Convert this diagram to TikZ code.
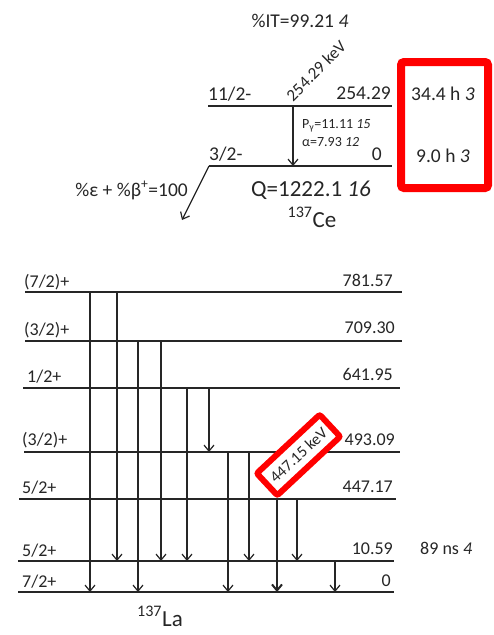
\documentclass[tikz,border=0pt]{standalone}
\usepackage{fontspec}
\setmainfont{Carlito}
\usetikzlibrary{arrows.meta}
\begin{document}
\begin{tikzpicture}[x=1pt,y=-1pt,
  lev/.style={line width=1.8pt, draw=black!85},
  gnd/.style={line width=2.8pt, draw=black!85},
  gam/.style={line width=1.2pt, draw=black!85, -{Straight Barb[length=6pt,width=10pt]}},
  gamthick/.style={gam, line width=2pt},
  txt/.style={inner sep=0pt, text=black!85, font=\fontsize{18}{20}\selectfont},
  utxt/.style={txt, font=\fontsize{19.5}{22}\selectfont},
  stxt/.style={txt, font=\fontsize{14}{16}\selectfont},
  big/.style={txt, font=\fontsize{23}{26}\selectfont},
  redbox/.style={draw=red, fill=white, rounded corners=3pt}
]
\useasboundingbox (0,0) rectangle (494,635);

% ---------------- upper scheme: 137Ce ----------------
\node[utxt, anchor=base] (it) at (300,27) {\%IT=99.21 \textit{4}};
\coordinate (u1l) at (208,106); \coordinate (u1r) at (392,106);
\coordinate (u0l) at (209,166); \coordinate (u0r) at (392,166);
\draw[lev] (u1l) -- (u1r);
\draw[lev] (u0l) -- (u0r);
\node[utxt, anchor=base west] (u1j) at (208,100) {11/2-};
\node[utxt, anchor=base east] (u1e) at (391,99) {254.29};
\node[utxt, anchor=base west] (u0j) at (209,160) {3/2-};
\node[utxt, anchor=base east] (u0e) at (382,160) {0};
\coordinate (ug1) at (293,106); \coordinate (ug2) at (293,166);
\draw[gam] (ug1) -- (ug2);
\node[txt, font=\fontsize{17}{19}\selectfont, rotate=45] (ugl) at (316,71) {254.29 keV};
\node[stxt, anchor=base west] (pg) at (302,128) {P\textsubscript{γ}=11.11 \textit{15}};
\node[stxt, anchor=base west] (al) at (302,146) {α=7.93 \textit{12}};
\node[big, anchor=base] (q) at (311,196) {Q=1222.1 \textit{16}};
\node[big, anchor=base] (ce) at (312,227) {\textsuperscript{137}Ce};
\coordinate (ec) at (182,220);
\draw[gam] (u0l) -- (ec);
\node[utxt, anchor=base east] (ecl) at (188,196) {\%ε + \%β\textsuperscript{+}=100};
\node[redbox, line width=8pt, minimum width=87pt, minimum height=126pt] (ubox) at (444.5,125) {};
\node[utxt, anchor=base] (t1) at (443,100) {34.4 h \textit{3}};
\node[utxt, anchor=base] (t0) at (443,162) {9.0 h \textit{3}};

% ---------------- lower scheme: 137La ----------------
% levels
\draw[lev] (25,292) coordinate (L781l) -- (402,292) coordinate (L781r);
\draw[lev] (25,341) coordinate (L709l) -- (402,341) coordinate (L709r);
\draw[lev] (23,388) coordinate (L641l) -- (400,388) coordinate (L641r);
\draw[lev] (24,452) coordinate (L493l) -- (400,452) coordinate (L493r);
\draw[lev] (19,499) coordinate (L447l) -- (396,499) coordinate (L447r);
\draw[lev] (18,561) coordinate (L10l) -- (394,561) coordinate (L10r);
\draw[gnd] (18,592) coordinate (L0l) -- (394,592) coordinate (L0r);

% spin labels
\node[txt, anchor=base west] (s781) at (24,287) {(7/2)+};
\node[txt, anchor=base west] (s709) at (24,335) {(3/2)+};
\node[txt, anchor=base west] (s641) at (27,382) {1/2+};
\node[txt, anchor=base west] (s493) at (22,445) {(3/2)+};
\node[txt, anchor=base west] (s447) at (22,493) {5/2+};
\node[txt, anchor=base west] (s10) at (22,556) {5/2+};
\node[txt, anchor=base west] (s0) at (22,587) {7/2+};

% energies
\node[txt, anchor=base east] (e781) at (393,286) {781.57};
\node[txt, anchor=base east] (e709) at (395,333) {709.30};
\node[txt, anchor=base east] (e641) at (393,380) {641.95};
\node[txt, anchor=base east] (e493) at (395,445) {493.09};
\node[txt, anchor=base east] (e447) at (393,492) {447.17};
\node[txt, anchor=base east] (e10) at (393,554) {10.59};
\node[txt, anchor=base east] (e0) at (391,586) {0};
\node[txt, anchor=base west] (hl) at (420,554) {89 ns \textit{4}};

% gamma transitions
\coordinate (a1) at (90,292);  \coordinate (b1) at (90,592);
\coordinate (a2) at (117,292); \coordinate (b2) at (117,561);
\coordinate (a3) at (138,341); \coordinate (b3) at (138,592);
\coordinate (a4) at (161,341); \coordinate (b4) at (161,561);
\coordinate (a5) at (187,388); \coordinate (b5) at (187,561);
\coordinate (a6) at (209,388); \coordinate (b6) at (209,452);
\coordinate (a7) at (228,452); \coordinate (b7) at (228,592);
\coordinate (a8) at (249,452); \coordinate (b8) at (249,561);
\coordinate (a9) at (277,499); \coordinate (b9) at (277,592);
\coordinate (a10) at (297,499); \coordinate (b10) at (297,561);
\coordinate (a11) at (335,561); \coordinate (b11) at (335,592);
\foreach \i in {1,...,8,10,11} \draw[gam] (a\i) -- (b\i);
\draw[gamthick] (a9) -- (b9);

\node[redbox, line width=6pt, rounded corners=2pt, rotate=43, minimum width=86pt, minimum height=30pt, inner sep=0pt,
      txt, font=\fontsize{16}{18}\selectfont] (lbox) at (298.5,455) {447.15 keV};

\node[big, anchor=base] (la) at (160,626) {\textsuperscript{137}La};
\end{tikzpicture}
\end{document}
